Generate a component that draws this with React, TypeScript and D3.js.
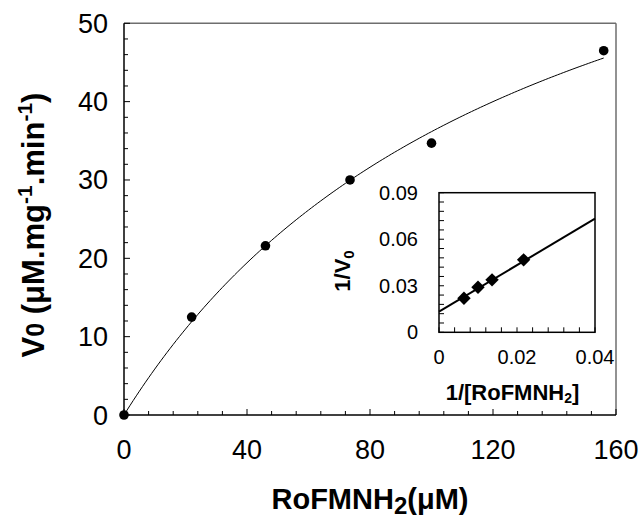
import React from "react";
import * as d3 from "d3";

// Main data: substrate concentration (µM) vs initial velocity
const substrate = [0, 22, 46, 73.5, 100, 156];
const velocity = [0, 12.5, 21.6, 30, 34.7, 46.5];
// Michaelis–Menten fit parameters
const VMAX = 85;
const KM = 135;
const FIT_END = 156;

// Inset (Lineweaver–Burk) data
const invS = [0.0064, 0.01, 0.0136, 0.0217];
const invV = [0.0219, 0.029, 0.0338, 0.0467];
const LB_INTERCEPT = 0.0133;
const LB_SLOPE = 1.5;

const xTicks = [0, 40, 80, 120, 160];
const yTicks = [0, 10, 20, 30, 40, 50];
const insetXTicks = [0, 0.02, 0.04];
const insetXTickLabels = ["0", "0.02", "0.04"];
const insetYTicks = [0, 0.03, 0.06, 0.09];
const insetYTickLabels = ["0", "0.03", "0.06", "0.09"];

const FONT = "'Liberation Sans', Arial, sans-serif";

export default function App() {
  const W = 644, H = 520;
  const x = d3.scaleLinear().domain([0, 160]).range([124, 616]);
  const y = d3.scaleLinear().domain([0, 50]).range([415, 23.3]);

  const ix = d3.scaleLinear().domain([0, 0.04]).range([439, 595]);
  const iy = d3.scaleLinear().domain([0, 0.09]).range([332.3, 192.7]);

  const fitPts = d3.range(0, FIT_END + 0.01, 1).map((s) => [s, (VMAX * s) / (KM + s)] as [number, number]);
  const fitLine = d3.line<[number, number]>().x((d) => x(d[0])).y((d) => y(d[1]));

  const xMinor = d3.range(0, 160.001, 8);
  const yMinor = d3.range(0, 50.001, 2);
  const ixMinor = d3.range(0, 0.04001, 0.004);
  const iyMinor = d3.range(0, 0.09001, 0.006);

  const diamond = d3.symbol().type(d3.symbolSquare).size(90)();

  const [x0, x1] = x.range();
  const [y0, y1] = y.range();
  const [ix0, ix1] = ix.range();
  const [iy0, iy1] = iy.range();

  return (
    <svg width={W} height={H} style={{ position: "absolute", left: 0, top: 0, background: "#fff" }} fontFamily={FONT}>
      <rect x={0} y={0} width={W} height={H} fill="#fff" />
      {/* main frame: top/right grey */}
      <line x1={x0} x2={x1} y1={y1} y2={y1} stroke="#6e6e6e" strokeWidth={1.5} />
      <line x1={x1} x2={x1} y1={y1} y2={y0} stroke="#6e6e6e" strokeWidth={1.5} />
      {/* minor ticks */}
      {xMinor.map((v, i) => (
        <line key={"xm" + i} x1={x(v)} x2={x(v)} y1={y0} y2={y0 - (v % 40 === 0 ? 6 : 4)} stroke="#000" strokeWidth={1} />
      ))}
      {yMinor.map((v, i) => (
        <line key={"ym" + i} x1={x0} x2={x0 + (v % 10 === 0 ? 6 : 4)} y1={y(v)} y2={y(v)} stroke="#000" strokeWidth={1} />
      ))}
      {/* axes */}
      <line x1={x0} x2={x1} y1={y0} y2={y0} stroke="#000" strokeWidth={1.5} />
      <line x1={x0} x2={x0} y1={y0} y2={y1} stroke="#000" strokeWidth={1.5} />
      {/* tick labels */}
      {xTicks.map((v) => (
        <text key={"xl" + v} x={x(v)} y={459} textAnchor="middle" fontSize={27} fill="#000">{v}</text>
      ))}
      {yTicks.map((v) => (
        <text key={"yl" + v} x={108} y={y(v) + 9.5} textAnchor="end" fontSize={27} fill="#000">{v}</text>
      ))}
      {/* axis titles */}
      <text x={370} y={509} textAnchor="middle" fontSize={29} fontWeight="bold" fill="#000">
        RoFMNH<tspan fontSize={24} dy={5}>2</tspan><tspan dy={-5}>(μM)</tspan>
      </text>
      <text transform={`translate(44,225) rotate(-90)`} textAnchor="middle" fontSize={31} fontWeight="bold" fill="#000">
        V<tspan fontSize={25}>0</tspan> (μM.mg<tspan fontSize={21} dy={-12}>-1</tspan><tspan dy={12}>.min</tspan><tspan fontSize={21} dy={-12}>-1</tspan><tspan dy={12}>)</tspan>
      </text>
      {/* fit curve */}
      <path d={fitLine(fitPts) || ""} fill="none" stroke="#000" strokeWidth={1} />
      {/* data points */}
      {substrate.map((s, i) => (
        <circle key={"p" + i} cx={x(s)} cy={y(velocity[i])} r={4.8} fill="#000" />
      ))}

      {/* inset */}
      <rect x={ix0} y={iy1} width={ix1 - ix0} height={iy0 - iy1} fill="#fff" stroke="none" />
      {ixMinor.map((v, i) => (
        <line key={"ixm" + i} x1={ix(v)} x2={ix(v)} y1={iy0} y2={iy0 - 5} stroke="#000" strokeWidth={1} />
      ))}
      {iyMinor.map((v, i) => (
        <line key={"iym" + i} x1={ix0} x2={ix0 + 5} y1={iy(v)} y2={iy(v)} stroke="#000" strokeWidth={1} />
      ))}
      <path
        d={d3.line<number>().x((v) => ix(v)).y((v) => iy(LB_INTERCEPT + LB_SLOPE * v))([0, 0.04]) || ""}
        fill="none" stroke="#000" strokeWidth={2}
      />
      {invS.map((s, i) => (
        <path key={"d" + i} d={diamond || ""} transform={`translate(${ix(s)},${iy(invV[i])}) rotate(45)`} fill="#000" />
      ))}
      <rect x={ix0} y={iy1} width={ix1 - ix0} height={iy0 - iy1} fill="none" stroke="#000" strokeWidth={1.5} />
      {insetXTicks.map((v, i) => (
        <text key={"ixl" + i} x={ix(v)} y={364} textAnchor="middle" fontSize={20} fill="#000">{insetXTickLabels[i]}</text>
      ))}
      {insetYTicks.map((v, i) => (
        <text key={"iyl" + i} x={418} y={iy(v) + 7} textAnchor="end" fontSize={20} fill="#000">{insetYTickLabels[i]}</text>
      ))}
      <text x={512.5} y={400} textAnchor="middle" fontSize={22} fontWeight="bold" fill="#000">
        1/[RoFMNH<tspan fontSize={14} dy={3}>2</tspan><tspan dy={-3}>]</tspan>
      </text>
      <text transform={`translate(350,271) rotate(-90)`} textAnchor="middle" fontSize={22} fontWeight="bold" fill="#000">
        1/V<tspan fontSize={15} dy={4}>0</tspan>
      </text>
    </svg>
  );
}
